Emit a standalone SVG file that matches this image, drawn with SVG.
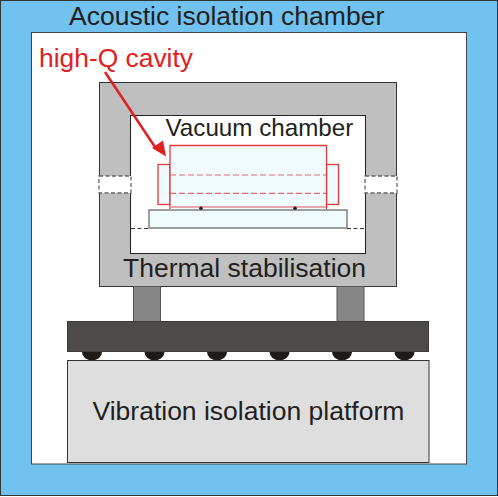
<svg xmlns="http://www.w3.org/2000/svg" width="498" height="497" viewBox="0 0 498 497">
<style>
text{font-family:"Liberation Sans",Arial,sans-serif;font-size:26.5px;fill:#231f20}
.cav{fill:#f0fbff;stroke:#e03a3a;stroke-width:1.3}
.dash{fill:none;stroke:#e06a6a;stroke-width:1.2;stroke-dasharray:6 3}
.win{fill:#fff;stroke:#666;stroke-width:1.3;stroke-dasharray:4 2.5}
.leg{fill:#868686;stroke:#555;stroke-width:1}
.ball{fill:#1d1a18}
</style>
<g id="acoustic-chamber">
<rect x="0.5" y="0.5" width="497" height="495" fill="#71c2ef" stroke="#333" stroke-width="1"/>
<rect x="31.5" y="32.5" width="435" height="431.500" fill="#fff" stroke="#444" stroke-width="1"/>
<text x="69" y="25">Acoustic isolation chamber</text>
</g>
<g id="thermal-stabilisation">
<rect x="99.500" y="82.500" width="297" height="204" fill="#bfbfbf" stroke="#333" stroke-width="1"/>
<text x="123" y="277">Thermal stabilisation</text>
</g>
<g id="vacuum-chamber">
<rect x="130.500" y="115.500" width="235" height="138" fill="#fff" stroke="#222" stroke-width="1"/>
<text x="165.500" y="136" style="font-size:24.200px">Vacuum chamber</text>
</g>
<g id="windows">
<rect class="win" x="99" y="176" width="32" height="17"/>
<rect class="win" x="365" y="176" width="32" height="17"/>
</g>
<g id="high-q-cavity">
<rect class="cav" x="158" y="164.500" width="12" height="40"/>
<rect class="cav" x="326.500" y="164.500" width="12" height="40"/>
<path class="cav" d="M170 209V145.500H326.500V209"/>
<path d="M170 175H326M170 193.300H326" class="dash"/>
<path d="M170 207H326" stroke="#e88a8a" stroke-width="1.500" fill="none"/>
<text x="39" y="67" style="fill:#e02020;font-size:26.400px">high-Q cavity</text>
</g>
<g id="support">
<rect x="149" y="210" width="198" height="18" fill="#f0fbff" stroke="#808080" stroke-width="1.500"/>
<circle cx="201" cy="208.300" r="1.800" fill="#222"/>
<circle cx="295" cy="208.300" r="1.800" fill="#222"/>
</g>
<g id="legs">
<rect class="leg" x="133.500" y="286.500" width="27" height="35"/>
<rect class="leg" x="337" y="286.500" width="27" height="35"/>
</g>
<g id="balls">
<path class="ball" d="M82 351v1a10 8.500 0 0 0 20 0v-1zM144.500 351v1a10 8.500 0 0 0 20 0v-1zM207 351v1a10 8.500 0 0 0 20 0v-1zM269.500 351v1a10 8.500 0 0 0 20 0v-1zM332 351v1a10 8.500 0 0 0 20 0v-1zM394.500 351v1a10 8.500 0 0 0 20 0v-1z"/>
</g>
<g id="breadboard">
<rect x="67.500" y="321.500" width="361" height="30" fill="#4d4a49" stroke="#3c3a39" stroke-width="1"/>
</g>
<g id="vibration-platform">
<rect x="67.500" y="360.500" width="361.500" height="102" fill="#dedede" stroke="#333" stroke-width="1"/>
<text x="92.500" y="420">Vibration isolation platform</text>
</g>
<g id="connectors">
<path d="M131 228.500H149M347 228.500H365" stroke="#333" stroke-width="1" stroke-dasharray="4 2.500" fill="none"/>
<path d="M105 72L155 147" stroke="#e02020" stroke-width="2.500" fill="none"/>
<path d="M166 156.500L152 148L163 140.500z" fill="#e02020"/>
</g>
</svg>
